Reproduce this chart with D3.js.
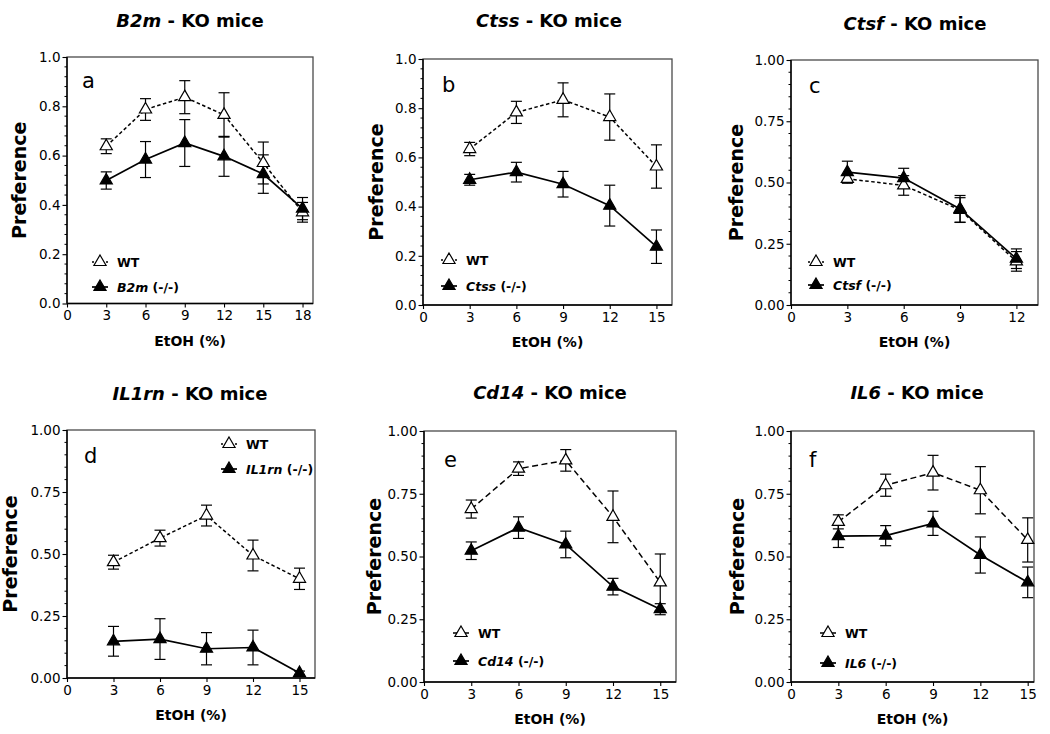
<!DOCTYPE html>
<html>
<head>
<meta charset="utf-8">
<script src="https://cdn.jsdelivr.net/npm/d3@7"></script>
<style>
  body { margin: 0; background: #fff; }
  svg { display: block; font-family: "DejaVu Sans", sans-serif; }
</style>
</head>
<body>
<svg id="chart"></svg>
<script>
const W = 1050, H = 734;

// data
const genes = ["B2m", "Ctss", "Ctsf", "IL1rn", "Cd14", "IL6"];
const letters = ["a", "b", "c", "d", "e", "f"];

const etohA = [3, 6, 9, 12, 15, 18];
const etohB = [3, 6, 9, 12, 15];
const etohC = [3, 6, 9, 12];

const xTicksA = [0, 3, 6, 9, 12, 15, 18];
const xTicksB = [0, 3, 6, 9, 12, 15];
const xTicksC = [0, 3, 6, 9, 12];

const yTicksFifth = [0, 0.2, 0.4, 0.6, 0.8, 1.0];
const yTicksQuarter = [0, 0.25, 0.5, 0.75, 1.0];

const wtA = [0.638, 0.787, 0.837, 0.765, 0.570, 0.370];
const wtErrA = [0.030, 0.044, 0.067, 0.090, 0.085, 0.040];
const koA = [0.499, 0.584, 0.651, 0.597, 0.525, 0.385];
const koErrA = [0.035, 0.073, 0.095, 0.081, 0.078, 0.045];

const wtB = [0.634, 0.783, 0.834, 0.764, 0.563];
const wtErrB = [0.027, 0.045, 0.069, 0.094, 0.088];
const koB = [0.509, 0.540, 0.491, 0.404, 0.237];
const koErrB = [0.022, 0.040, 0.052, 0.083, 0.068];

const wtC = [0.515, 0.488, 0.388, 0.178];
const wtErrC = [0.015, 0.040, 0.050, 0.040];
const koC = [0.542, 0.518, 0.392, 0.189];
const koErrC = [0.045, 0.040, 0.055, 0.040];

const wtD = [0.467, 0.564, 0.655, 0.494, 0.400];
const wtErrD = [0.028, 0.032, 0.042, 0.062, 0.043];
const koD = [0.148, 0.157, 0.118, 0.123, 0.020];
const koErrD = [0.060, 0.082, 0.065, 0.070, 0.008];

const wtE = [0.689, 0.850, 0.883, 0.658, 0.397];
const wtErrE = [0.036, 0.027, 0.043, 0.103, 0.113];
const koE = [0.523, 0.615, 0.548, 0.380, 0.290];
const koErrE = [0.035, 0.043, 0.053, 0.033, 0.022];

const wtF = [0.638, 0.784, 0.834, 0.764, 0.566];
const wtErrF = [0.028, 0.044, 0.069, 0.094, 0.088];
const koF = [0.581, 0.583, 0.632, 0.506, 0.397];
const koErrF = [0.045, 0.040, 0.048, 0.072, 0.061];

// layout of each panel (pixels)
const panels = [
  { x: etohA, xt: xTicksA, xmax: 18.8, yt: yTicksFifth, fmt: ".1f", minor: 0.04, wt: wtA, wtE: wtErrA, ko: koA, koE: koErrA,
    box: [67, 313, 57, 303.5], title: [190, 27], letter: [82, 88], legend: [100, 262, 25], ylab: 48, dash: "3.5,2.5" },
  { x: etohB, xt: xTicksB, xmax: 16, yt: yTicksFifth, fmt: ".1f", minor: 0.04, wt: wtB, wtE: wtErrB, ko: koB, koE: koErrB,
    box: [423, 672, 59, 305], title: [549, 27], letter: [442, 92], legend: [449, 260, 26], ylab: 47, dash: "3.5,2.5" },
  { x: etohC, xt: xTicksC, xmax: 13.15, yt: yTicksQuarter, fmt: ".2f", minor: 0.05, wt: wtC, wtE: wtErrC, ko: koC, koE: koErrC,
    box: [791, 1038, 60, 305], title: [915, 30], letter: [809, 93], legend: [816, 262, 23], ylab: 55, dash: "3.5,2.5" },
  { x: etohB, xt: xTicksB, xmax: 16, yt: yTicksQuarter, fmt: ".2f", minor: 0.05, wt: wtD, wtE: wtErrD, ko: koD, koE: koErrD,
    box: [67, 315, 430, 678], title: [190, 400], letter: [84, 463], legend: [229, 444, 25], ylab: 57, dash: "3.5,2.5" },
  { x: etohB, xt: xTicksB, xmax: 16, yt: yTicksQuarter, fmt: ".2f", minor: 0.05, wt: wtE, wtE: wtErrE, ko: koE, koE: koErrE,
    box: [424, 676, 431, 682], title: [550, 399], letter: [444, 467], legend: [461, 633, 28], ylab: 50.5, dash: "6,3.5" },
  { x: etohB, xt: xTicksB, xmax: 15.4, yt: yTicksQuarter, fmt: ".2f", minor: 0.05, wt: wtF, wtE: wtErrF, ko: koF, koE: koErrF,
    box: [791, 1034, 431, 682], title: [917, 399], letter: [809, 467], legend: [828, 633, 30], ylab: 54.5, dash: "6,3.5" }
];

const svg = d3.select("#chart").attr("width", W).attr("height", H);
svg.append("rect").attr("width", W).attr("height", H).attr("fill", "#fff");

const tri = d3.symbol(d3.symbolTriangle, 64);

panels.forEach((p, i) => {
  const [l, r, t, b] = p.box;
  const xs = d3.scaleLinear().domain([0, p.xmax]).range([l, r]);
  const ys = d3.scaleLinear().domain([0, 1]).range([b, t]);
  const g = svg.append("g");

  // title
  const title = g.append("text")
    .attr("x", p.title[0]).attr("y", p.title[1])
    .attr("text-anchor", "middle")
    .style("font-size", "18px").style("font-weight", "bold");
  title.append("tspan").style("font-style", "italic").text(genes[i]);
  title.append("tspan").text(" - KO mice");

  // frame
  g.append("rect")
    .attr("x", l).attr("y", t).attr("width", r - l).attr("height", b - t)
    .attr("fill", "none").attr("stroke", "#4a4a4a").attr("stroke-width", 1.3);

  // y axis
  const yAxis = d3.axisLeft(ys).tickValues(p.yt).tickFormat(d3.format(p.fmt)).tickSize(4.5).tickPadding(2);
  const ya = g.append("g").attr("transform", `translate(${l},0)`).call(yAxis);
  const minors = d3.range(0, 1.0001, p.minor).filter(v => !p.yt.some(tv => Math.abs(tv - v) < 1e-6));
  ya.selectAll(".minor").data(minors).enter().append("line")
    .attr("class", "minor")
    .attr("x1", -2.5).attr("x2", 0)
    .attr("y1", d => ys(d)).attr("y2", d => ys(d))
    .attr("stroke", "#000").attr("stroke-width", 1);

  // x axis
  const xAxis = d3.axisBottom(xs).tickValues(p.xt).tickFormat(d3.format("d")).tickSize(4).tickPadding(3);
  const xa = g.append("g").attr("transform", `translate(0,${b})`).call(xAxis);

  [ya, xa].forEach(a => {
    a.select(".domain").attr("stroke", "#000").attr("stroke-width", 1.4);
    a.selectAll(".tick line").attr("stroke", "#000").attr("stroke-width", 1.1);
    a.selectAll(".tick text").attr("fill", "#000")
      .style("font-size", "13.5px").style("font-family", "DejaVu Sans, sans-serif");
  });
  ya.select(".domain").attr("d", `M0,${b}V${t}`);
  xa.select(".domain").attr("d", `M${l},0H${r}`);

  // axis labels
  g.append("text")
    .attr("x", (l + r) / 2).attr("y", b + 42)
    .attr("text-anchor", "middle")
    .style("font-size", "14px").style("font-weight", "bold")
    .text("EtOH (%)");
  g.append("text")
    .attr("transform", `translate(${l - p.ylab + 7},${(t + b) / 2}) rotate(-90)`)
    .attr("text-anchor", "middle")
    .style("font-size", "19px").style("font-weight", "bold")
    .text("Preference");

  // panel letter
  g.append("text")
    .attr("x", p.letter[0]).attr("y", p.letter[1])
    .style("font-size", "21px")
    .text(letters[i]);

  const series = [
    { vals: p.wt, errs: p.wtE, dash: p.dash, fill: "#fff" },
    { vals: p.ko, errs: p.koE, dash: null, fill: "#000" }
  ];

  series.forEach(s => {
    const pts = p.x.map((x, k) => ({ x: x, y: s.vals[k], e: s.errs[k] }));
    // error bars
    const eb = g.append("g").selectAll("g").data(pts).enter().append("g");
    eb.append("line")
      .attr("x1", d => xs(d.x)).attr("x2", d => xs(d.x))
      .attr("y1", d => ys(d.y - d.e)).attr("y2", d => ys(d.y + d.e))
      .attr("stroke", "#000").attr("stroke-width", 1.2);
    [-1, 1].forEach(sg => {
      eb.append("line")
        .attr("x1", d => xs(d.x) - 5.5).attr("x2", d => xs(d.x) + 5.5)
        .attr("y1", d => ys(d.y + sg * d.e)).attr("y2", d => ys(d.y + sg * d.e))
        .attr("stroke", "#000").attr("stroke-width", 1.2);
    });
  });

  series.forEach(s => {
    const pts = p.x.map((x, k) => ({ x: x, y: s.vals[k] }));
    g.append("path")
      .datum(pts)
      .attr("d", d3.line().x(d => xs(d.x)).y(d => ys(d.y)))
      .attr("fill", "none").attr("stroke", "#000")
      .attr("stroke-width", s.dash ? 1.5 : 1.7)
      .attr("stroke-dasharray", s.dash);
    g.append("g").selectAll("path").data(pts).enter().append("path")
      .attr("d", tri)
      .attr("transform", d => `translate(${xs(d.x)},${ys(d.y)})`)
      .attr("fill", s.fill).attr("stroke", "#000").attr("stroke-width", 1.2);
  });

  // legend
  const [lx, ly, dy] = p.legend;
  const wide = p.dash === "6,3.5";
  const rows = [
    { y: ly, fill: "#fff", label: [["WT", false]] },
    { y: ly + dy, fill: "#000", label: [[genes[i], true], [" (-/-)", false]] }
  ];
  rows.forEach((row, k) => {
    g.append("line")
      .attr("x1", lx - 8).attr("x2", lx + 8)
      .attr("y1", row.y).attr("y2", row.y)
      .attr("stroke", "#000").attr("stroke-width", k === 0 ? 1.3 : 1.7)
      .attr("stroke-dasharray", k === 0 ? (wide ? "4,2" : "2,12") : null);
    g.append("path")
      .attr("d", tri)
      .attr("transform", `translate(${lx},${row.y})`)
      .attr("fill", row.fill).attr("stroke", "#000").attr("stroke-width", 1.2);
    const tx = g.append("text")
      .attr("x", lx + 17).attr("y", row.y + 4.5)
      .style("font-size", "12.5px").style("font-weight", "bold");
    row.label.forEach(([txt, it]) => {
      tx.append("tspan").style("font-style", it ? "italic" : "normal").text(txt);
    });
  });
});
</script>
</body>
</html>
